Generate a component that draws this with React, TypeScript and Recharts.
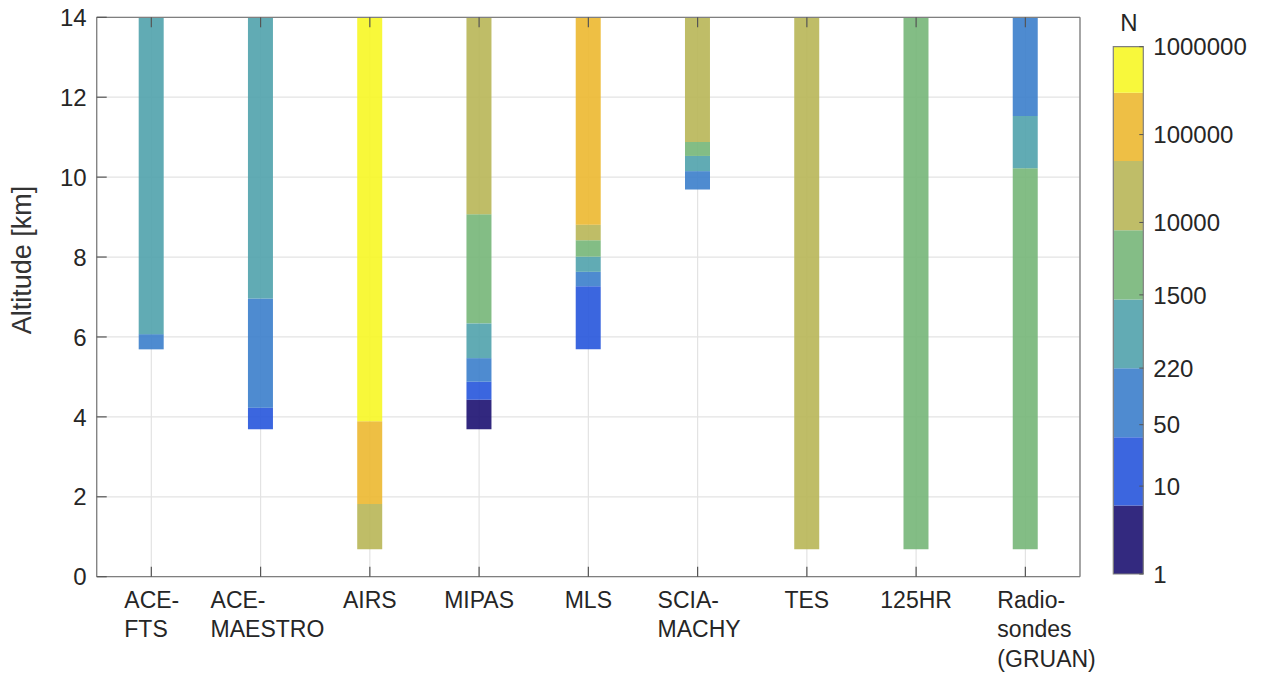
import { ComposedChart, Bar, Cell, XAxis, YAxis, CartesianGrid, ReferenceArea } from 'recharts';

// instruments on the x axis
const categories = ['ACE-FTS', 'ACE-MAESTRO', 'AIRS', 'MIPAS', 'MLS', 'SCIAMACHY', 'TES', '125HR', 'Radiosondes (GRUAN)'];
const tickLines = [
  ['ACE-', 'FTS'],
  ['ACE-', 'MAESTRO'],
  ['AIRS'],
  ['MIPAS'],
  ['MLS'],
  ['SCIA-', 'MACHY'],
  ['TES'],
  ['125HR'],
  ['Radio-', 'sondes', '(GRUAN)'],
];

// lowest altitude of each column [km]
const bottoms = [5.69, 3.69, 0.69, 3.69, 5.69, 9.69, 0.69, 0.69, 0.69];
// upper edge of each coloured segment, bottom to top [km]
const segmentTops = [
  [6.07, 14],
  [4.23, 6.96, 14],
  [1.82, 3.89, 14],
  [4.43, 4.88, 5.47, 6.34, 9.07, 14],
  [7.27, 7.63, 8.01, 8.42, 8.81, 14],
  [10.15, 10.53, 10.88, 14],
  [14],
  [14],
  [10.22, 11.53, 14],
];
// colour bin (0 = fewest profiles) of each segment
const segmentBins = [
  [2, 3],
  [1, 2, 3],
  [5, 6, 7],
  [0, 1, 2, 3, 4, 5],
  [1, 2, 3, 4, 5, 6],
  [2, 3, 4, 5],
  [5],
  [4],
  [4, 3, 2],
];

const yTicks = [0, 2, 4, 6, 8, 10, 12, 14];

// colour bar
const binEdges = [1, 6, 36, 220, 1330, 8150, 50000, 300000, 1000000];
const colorbarTicks = [1, 10, 50, 220, 1500, 10000, 100000, 1000000];

const barFill = ['#1c1171', '#2655db', '#3b7ecb', '#50a2ac', '#76b678', '#b8b657', '#ecb830', '#f7f725'];
const cbFill = ['#33297f', '#3c66df', '#4f8bd0', '#62abb4', '#84bd86', '#bfbd68', '#eebf45', '#f8f83b'];

const FONT = '"Liberation Sans", Arial, sans-serif';
const TEXT = '#262626';
const AXIS = '#7f7f7f';
const multiLineLeft: Record<number, number> = { 0: -27, 1: -50, 5: -40, 8: -28 };

const maxSegs = Math.max(...segmentTops.map((s) => s.length));
const tableData = categories.map((name, i) => {
  const row: Record<string, number | string> = { name, base: bottoms[i] };
  let prev = bottoms[i];
  for (let k = 0; k < maxSegs; k++) {
    const top = segmentTops[i][k];
    row['s' + k] = top !== undefined ? top - prev : 0;
    if (top !== undefined) prev = top;
  }
  return row;
});

const BottomTick = (props: any) => {
  const { x, y, payload } = props;
  const i = categories.indexOf(payload.value);
  const lines = tickLines[i] || [payload.value];
  const left = multiLineLeft[i];
  return (
    <g>
      <line x1={x} x2={x} y1={y} y2={y - 10} stroke="#555" strokeWidth={1.2} />
      <text
        x={left !== undefined ? x + left : x}
        y={y + 31}
        textAnchor={left !== undefined ? 'start' : 'middle'}
        fontSize={23}
        fontFamily={FONT}
        fill={TEXT}
      >
        {lines.map((l, k) => (
          <tspan key={k} x={left !== undefined ? x + left : x} dy={k === 0 ? 0 : 29.5}>
            {l}
          </tspan>
        ))}
      </text>
    </g>
  );
};

const TopTick = (props: any) => {
  const { x, y } = props;
  return <line x1={x} x2={x} y1={y} y2={y + 10} stroke="#555" strokeWidth={1.2} />;
};

const LeftTick = (props: any) => {
  const { x, y, payload } = props;
  return (
    <g>
      <line x1={x} x2={x + 10} y1={y} y2={y} stroke="#555" strokeWidth={1.2} />
      <text x={x - 10} y={y} dy="0.36em" textAnchor="end" fontSize={24} fontFamily={FONT} fill={TEXT}>
        {payload.value}
      </text>
    </g>
  );
};

const RightTick = (props: any) => {
  const { x, y } = props;
  return <line x1={x} x2={x - 10} y1={y} y2={y} stroke="#555" strokeWidth={1.2} />;
};

const ColorbarTick = (props: any) => {
  const { x, y, payload } = props;
  return (
    <g>
      <line x1={x} x2={x - 4} y1={y} y2={y} stroke="#555" strokeWidth={1} />
      <text x={x + 10} y={y} dy="0.36em" textAnchor="start" fontSize={24} fontFamily={FONT} fill={TEXT}>
        {payload.value}
      </text>
    </g>
  );
};

const Colorbar = () => (
  <ComposedChart
    width={155}
    height={600}
    data={[{ x: 0 }, { x: 1 }]}
    margin={{ top: 38.7, right: 9.7, bottom: 34, left: 15.3 }}
  >
    <XAxis type="number" dataKey="x" domain={[0, 1]} hide />
    <YAxis
      yAxisId="cb"
      orientation="right"
      type="number"
      scale="log"
      domain={[1, 1000000]}
      allowDataOverflow
      ticks={colorbarTicks}
      interval={0}
      tick={<ColorbarTick />}
      tickLine={false}
      axisLine={false}
      tickSize={0}
      tickMargin={0}
      width={100}
    />
    {binEdges.slice(0, -1).map((lo, i) => (
      <ReferenceArea
        key={i}
        yAxisId="cb"
        x1={0}
        x2={1}
        y1={lo}
        y2={binEdges[i + 1]}
        fill={cbFill[i]}
        fillOpacity={1}
        stroke="none"
        ifOverflow="visible"
      />
    ))}
    <ReferenceArea
      yAxisId="cb"
      x1={0}
      x2={1}
      y1={1}
      y2={1000000}
      fill="none"
      stroke={AXIS}
      strokeWidth={1.2}
      ifOverflow="visible"
    />
  </ComposedChart>
);

export default function App() {
  return (
    <div style={{ position: 'relative', top: -8, left: -8, width: 1261, height: 676, fontFamily: FONT, background: '#fff' }}>
      <ComposedChart
        width={1108}
        height={676}
        data={tableData}
        margin={{ top: 16.3, right: 27, bottom: 0, left: 0 }}
      >
        <CartesianGrid stroke="#e3e3e3" strokeWidth={1.2} />
        <XAxis
          dataKey="name"
          interval={0}
          height={99.3}
          tick={<BottomTick />}
          tickLine={false}
          tickSize={0}
          tickMargin={0}
          axisLine={{ stroke: AXIS, strokeWidth: 1.3 }}
        />
        <XAxis
          xAxisId="top"
          orientation="top"
          dataKey="name"
          interval={0}
          height={1}
          tick={<TopTick />}
          tickLine={false}
          tickSize={0}
          tickMargin={0}
          axisLine={{ stroke: AXIS, strokeWidth: 1.3 }}
        />
        <YAxis
          type="number"
          domain={[0, 14]}
          ticks={yTicks}
          interval={0}
          width={96.7}
          tick={<LeftTick />}
          tickLine={false}
          tickSize={0}
          tickMargin={0}
          axisLine={{ stroke: AXIS, strokeWidth: 1.3 }}
          label={{
            value: 'Altitude [km]',
            content: () => (
              <text
                x={22}
                y={260}
                transform="rotate(-90 22 260)"
                textAnchor="middle"
                dominantBaseline="central"
                fontSize={27}
                fontFamily={FONT}
                fill="#333"
              >
                Altitude [km]
              </text>
            ),
          }}
        />
        <YAxis
          yAxisId="right"
          orientation="right"
          type="number"
          domain={[0, 14]}
          ticks={yTicks}
          interval={0}
          width={1}
          tick={<RightTick />}
          tickLine={false}
          tickSize={0}
          tickMargin={0}
          axisLine={{ stroke: AXIS, strokeWidth: 1.3 }}
        />
        <Bar dataKey="base" stackId="alt" barSize={25} fill="none" isAnimationActive={false} />
        {Array.from({ length: maxSegs }, (_, k) => (
          <Bar key={k} dataKey={'s' + k} stackId="alt" barSize={25} isAnimationActive={false}>
            {categories.map((c, i) => {
              const bin = segmentBins[i][k];
              return <Cell key={c} fill={bin !== undefined ? barFill[bin] : 'none'} fillOpacity={0.9} />;
            })}
          </Bar>
        ))}
      </ComposedChart>
      <div style={{ position: 'absolute', left: 1098, top: 8 }}>
        <Colorbar />
      </div>
      <div
        style={{
          position: 'absolute',
          left: 1117,
          top: 10.7,
          width: 24,
          textAlign: 'center',
          fontSize: 24,
          lineHeight: '24px',
          color: TEXT,
        }}
      >
        N
      </div>
    </div>
  );
}
